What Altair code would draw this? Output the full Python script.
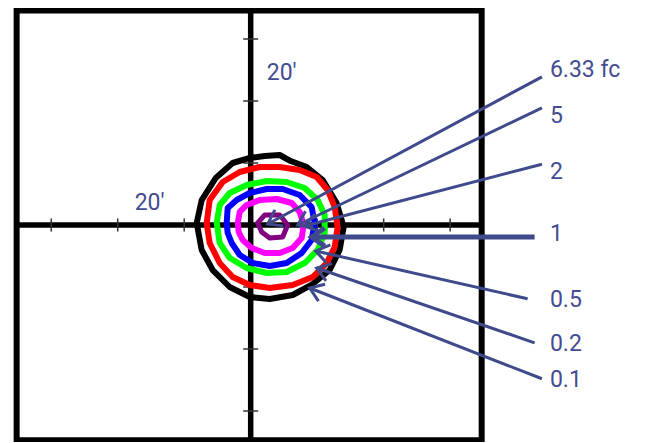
import math
import altair as alt
import pandas as pd

# ---------------- data (feet) ----------------
levels = ["0.1", "0.2", "0.5", "1", "2", "5"]
level_colors = ["#000000", "#ff0000", "#00ff00", "#0000ff", "#ff00ff", "#800080"]
level_widths = [6, 6, 6, 6, 6, 5]

ring_01_x = [-8.12, -7.37, -5.26, -2.71, -0.15, 2.11, 4.36, 6.02, 8.42, 10.83, 12.93, 13.98, 13.38, 11.88, 9.32, 6.32, 2.86, -0.15, -3.16, -5.71, -7.37]
ring_01_y = [0.32, 4.03, 7.58, 10.0, 10.81, 11.13, 11.29, 10.32, 9.35, 7.26, 3.55, -0.32, -4.03, -7.26, -9.52, -11.29, -11.94, -11.61, -10.0, -7.26, -4.03]

ring_02_x = [-6.62, -6.17, -4.21, -1.65, 1.35, 4.36, 7.37, 9.92, 11.58, 12.63, 13.08, 12.63, 11.43, 9.32, 6.32, 2.86, -0.15, -2.71, -4.66, -6.17]
ring_02_y = [0.32, 4.03, 6.94, 8.55, 9.35, 9.35, 8.87, 7.74, 5.65, 2.90, -0.32, -3.55, -6.13, -8.39, -9.68, -10.16, -9.68, -8.39, -6.13, -2.90]

ring_05_x = [-5.11, -4.66, -3.16, -0.60, 2.41, 5.41, 8.12, 10.08, 11.13, 11.13, 10.08, 8.12, 5.41, 2.41, -0.60, -3.16, -4.66]
ring_05_y = [0.32, 3.23, 5.16, 6.45, 7.10, 6.94, 5.97, 4.03, 1.61, -1.29, -4.03, -6.13, -7.58, -7.74, -6.94, -5.32, -2.90]

ring_1_x = [-3.61, -3.46, -2.11, -0.15, 2.41, 4.81, 7.37, 9.17, 9.62, 9.17, 7.67, 5.41, 2.86, 0.30, -1.65, -2.86, -3.46]
ring_1_y = [0.32, 2.74, 4.03, 5.16, 5.81, 5.81, 4.84, 2.90, 0.32, -2.42, -4.52, -6.13, -6.61, -6.13, -4.84, -2.90, -1.29]

ring_2_x = [-1.95, -1.65, -0.60, 1.35, 3.91, 6.17, 7.37, 7.97, 7.67, 6.32, 4.36, 2.11, 0.15, -1.20, -1.80]
ring_2_y = [0.32, 2.10, 3.23, 4.03, 4.19, 3.55, 2.10, 0.0, -2.10, -3.71, -4.52, -4.52, -3.71, -2.42, -1.13]

ring_5_x = [1.05, 2.11, 4.36, 5.56, 4.81, 2.86, 1.65]
ring_5_y = [0.32, 1.61, 1.61, 0.0, -1.94, -2.10, -1.13]

label_text = ["6.33 fc", "5", "2", "1", "0.5", "0.2", "0.1"]
label_x = [45.0, 45.0, 45.0, 45.0, 45.0, 45.0, 45.0]
label_y = [25.0, 17.6, 8.55, -1.45, -12.1, -19.2, -25.0]
lead_x0 = [43.8, 43.8, 43.8, 42.7, 41.65, 42.7, 43.8]
lead_y0 = [23.9, 18.9, 9.8, -1.94, -11.9, -19.0, -24.8]
tip_x = [2.56, 7.07, 8.12, 9.17, 9.77, 9.92, 8.87]
tip_y = [0.16, 0.0, -0.16, -1.94, -4.19, -6.94, -10.16]
lead_width = [3, 3, 3, 5, 3, 3, 3]

dim_text = ["20\u2032", "20\u2032"]
dim_x = [4.66, -15.2]
dim_y = [24.5, 3.55]

tick_values = [-30, -20, -10, 10, 20, 30]

frame_x = [-35.2, 34.74]
frame_y = [-34.7, 34.6]

# ---------------- layout ----------------
W, H = 629, 434
XD = [-36.5, 58.1]
YD = [-35.0, 35.0]
kx = W / (XD[1] - XD[0])
ky = H / (YD[1] - YD[0])

xs = alt.Scale(domain=XD, nice=False, zero=False)
ys = alt.Scale(domain=YD, nice=False, zero=False)

def X(f):
    return alt.X(f, type="quantitative", scale=xs, axis=None)

def Y(f):
    return alt.Y(f, type="quantitative", scale=ys, axis=None)

TEXT_COLOR = "#444c91"
ARROW_COLOR = "#3f4a8c"

# frame
frame_df = pd.DataFrame({"x": [frame_x[0]], "x2": [frame_x[1]], "y": [frame_y[0]], "y2": [frame_y[1]]})
frame = alt.Chart(frame_df).mark_rect(filled=False, stroke="black", strokeWidth=6).encode(
    x=X("x"), x2="x2", y=Y("y"), y2="y2")

# cross
hcross = alt.Chart(pd.DataFrame({"x": [frame_x[0]], "x2": [frame_x[1]], "y": [0.0]})).mark_rule(
    color="black", strokeWidth=5.5).encode(x=X("x"), x2="x2", y=Y("y"))
vcross = alt.Chart(pd.DataFrame({"y": [frame_y[0]], "y2": [frame_y[1]], "x": [0.0]})).mark_rule(
    color="black", strokeWidth=5.5).encode(x=X("x"), y=Y("y"), y2="y2")

# ticks
xt = alt.Chart(pd.DataFrame({"x": tick_values, "y": [0.0] * len(tick_values)})).mark_point(
    shape="M0,-1L0,1", filled=False, size=169, stroke="#333333", strokeWidth=1.5, opacity=1).encode(
    x=X("x"), y=Y("y"))
yt = alt.Chart(pd.DataFrame({"y": tick_values, "x": [0.0] * len(tick_values)})).mark_point(
    shape="M-1,0L1,0", filled=False, size=225, stroke="#333333", strokeWidth=1.5, opacity=1).encode(
    x=X("x"), y=Y("y"))

# rings
rings = [(ring_01_x, ring_01_y), (ring_02_x, ring_02_y), (ring_05_x, ring_05_y),
         (ring_1_x, ring_1_y), (ring_2_x, ring_2_y), (ring_5_x, ring_5_y)]
rows = []
for lv, w, (rx, ry) in zip(levels, level_widths, rings):
    pts = list(zip(rx, ry)) + [(rx[0], ry[0])]
    for i, (a, b) in enumerate(pts):
        rows.append({"level": lv, "i": i, "x": a, "y": b, "w": w})
ring_df = pd.DataFrame(rows)
ring_layers = []
for lv in levels:
    sub = ring_df[ring_df["level"] == lv]
    ring_layers.append(
        alt.Chart(sub).mark_line(strokeJoin="round", strokeCap="round").encode(
            x=X("x"), y=Y("y"), order="i:Q",
            color=alt.Color("level:N", scale=alt.Scale(domain=levels, range=level_colors), legend=None),
            strokeWidth=alt.StrokeWidth("w:Q", scale=None)))

# leaders and arrowheads
angles = []
for x0, y0, x1, y1 in zip(lead_x0, lead_y0, tip_x, tip_y):
    dxp = (x1 - x0) * kx
    dyp = -(y1 - y0) * ky
    angles.append(math.degrees(math.atan2(dyp, dxp)) % 360)
lead_df = pd.DataFrame({"label": label_text, "x0": lead_x0, "y0": lead_y0, "x1": tip_x, "y1": tip_y,
                        "w": lead_width, "ang": angles})
leads = alt.Chart(lead_df).mark_rule(color=ARROW_COLOR).encode(
    x=X("x0"), y=Y("y0"), x2="x1", y2="y1", strokeWidth=alt.StrokeWidth("w:Q", scale=None))
heads = alt.Chart(lead_df).mark_point(
    shape="M-1,-0.7L0,0L-1,0.7", filled=False, size=676, stroke=ARROW_COLOR, opacity=1,
    strokeJoin="miter").encode(
    x=X("x1"), y=Y("y1"), angle=alt.Angle("ang:Q", scale=None),
    strokeWidth=alt.StrokeWidth("w:Q", scale=None))

# labels
lab_df = pd.DataFrame({"t": label_text, "x": label_x, "y": label_y})
labels = alt.Chart(lab_df).mark_text(align="left", baseline="middle", font="Roboto", fontSize=23,
                                      color=TEXT_COLOR).encode(x=X("x"), y=Y("y"), text="t:N")
dim_df = pd.DataFrame({"t": dim_text, "x": dim_x, "y": dim_y})
dims = alt.Chart(dim_df).mark_text(align="center", baseline="middle", font="Roboto", fontSize=23,
                                    color=TEXT_COLOR).encode(x=X("x"), y=Y("y"), text="t:N")

chart = alt.layer(frame, hcross, vcross, xt, yt, *ring_layers, leads, heads, labels, dims).properties(
    width=W, height=H, autosize=alt.AutoSizeParams(type="none"), padding=0
).configure_view(stroke=None)

chart.save("out.html", embed_options={"renderer": "svg", "actions": False})
